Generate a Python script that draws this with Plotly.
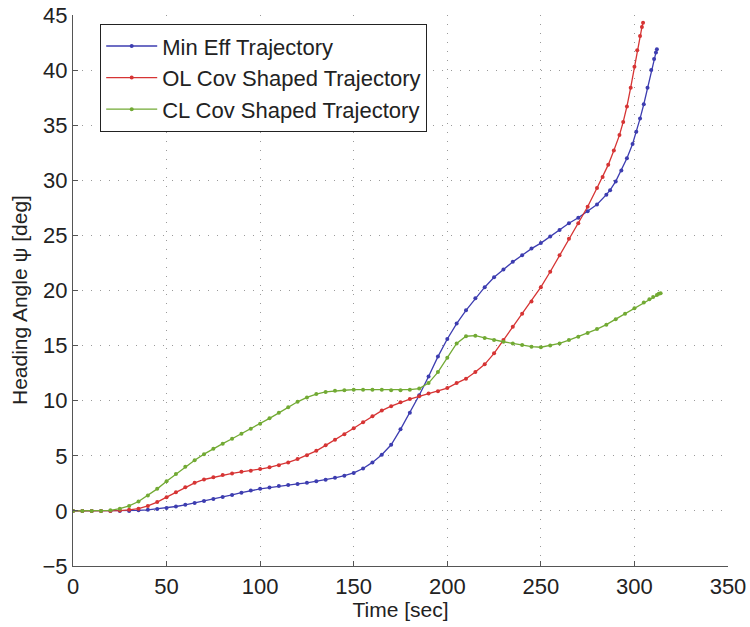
import plotly.graph_objects as go

t_min = [0, 5, 10, 15, 20, 25, 30, 35, 40, 45, 50, 55, 60, 65, 70, 75, 80, 85, 90, 95,
         100, 105, 110, 115, 120, 125, 130, 135, 140, 145, 150, 155, 160, 165, 170, 175,
         180, 185, 190, 195, 200, 205, 210, 215, 220, 225, 230, 235, 240, 245, 250, 255,
         260, 265, 270, 275, 280, 285, 287, 290, 293, 296, 299, 301, 303, 305, 307, 309,
         310.5, 311.5, 312]
v_min = [0, 0, 0, 0, 0, 0, 0, 0.05, 0.1, 0.18, 0.27, 0.4, 0.55, 0.72, 0.9, 1.08, 1.27, 1.45,
         1.65, 1.85, 2.0, 2.12, 2.25, 2.35, 2.45, 2.55, 2.68, 2.82, 3.0, 3.2, 3.45, 3.85,
         4.4, 5.1, 6.0, 7.4, 8.9, 10.5, 12.2, 14.0, 15.6, 17.0, 18.2, 19.3, 20.3, 21.2,
         21.9, 22.6, 23.2, 23.8, 24.3, 24.9, 25.5, 26.1, 26.6, 27.2, 27.8, 28.7, 29.1,
         29.9, 30.9, 32.0, 33.3, 34.4, 35.6, 36.9, 38.4, 40.0, 41.0, 41.6, 41.9]

t_ol = [0, 5, 10, 15, 20, 25, 30, 35, 40, 45, 50, 55, 60, 65, 70, 75, 80, 85, 90, 95,
        100, 105, 110, 115, 120, 125, 130, 135, 140, 145, 150, 155, 160, 165, 170, 175,
        180, 185, 190, 195, 200, 205, 210, 215, 220, 225, 230, 235, 240, 245, 250, 255,
        260, 265, 270, 275, 280, 283, 286, 289, 292, 294, 296, 298, 300, 301.5, 303, 304,
        304.6]
v_ol = [0, 0, 0, 0, 0, 0.03, 0.1, 0.2, 0.45, 0.8, 1.25, 1.7, 2.15, 2.55, 2.85, 3.05, 3.25,
        3.4, 3.55, 3.65, 3.8, 3.95, 4.15, 4.4, 4.7, 5.05, 5.45, 5.95, 6.45, 6.95, 7.5,
        8.05, 8.6, 9.1, 9.5, 9.85, 10.15, 10.4, 10.65, 10.85, 11.15, 11.6, 12.0, 12.6,
        13.3, 14.3, 15.5, 16.7, 17.9, 19.0, 20.3, 21.7, 23.2, 24.7, 26.1, 27.6, 29.3,
        30.3, 31.4, 32.7, 34.1, 35.3, 36.7, 38.4, 40.3, 41.8, 43.1, 43.9, 44.3]

t_cl = [0, 5, 10, 15, 20, 25, 30, 35, 40, 45, 50, 55, 60, 65, 70, 75, 80, 85, 90, 95,
        100, 105, 110, 115, 120, 125, 130, 135, 140, 145, 150, 155, 160, 165, 170, 175,
        180, 185, 190, 195, 200, 205, 210, 215, 220, 225, 230, 235, 240, 245, 250, 255,
        260, 265, 270, 275, 280, 285, 290, 295, 300, 305, 308, 310, 312, 313, 314]
v_cl = [0, 0, 0, 0, 0.05, 0.2, 0.45, 0.85, 1.4, 2.0, 2.7, 3.35, 4.0, 4.6, 5.15, 5.65, 6.1,
        6.55, 7.0, 7.45, 7.9, 8.4, 8.9, 9.4, 9.9, 10.3, 10.6, 10.8, 10.9, 10.95, 11.0,
        11.0, 11.0, 11.0, 10.95, 10.95, 11.0, 11.1, 11.6, 12.6, 13.9, 15.2, 15.85, 15.9,
        15.7, 15.5, 15.35, 15.2, 15.05, 14.9, 14.85, 15.0, 15.2, 15.5, 15.8, 16.15, 16.5,
        16.9, 17.4, 17.9, 18.4, 18.9, 19.2, 19.4, 19.6, 19.7, 19.75]

names = ["Min Eff Trajectory", "OL Cov Shaped Trajectory", "CL Cov Shaped Trajectory"]
colors = ["#3d3db0", "#d63434", "#72aa34"]

x_ticks = [0, 50, 100, 150, 200, 250, 300, 350]
y_ticks = [-5, 0, 5, 10, 15, 20, 25, 30, 35, 40, 45]

fig = go.Figure()
for i, (tx, vy) in enumerate([(t_min, v_min), (t_ol, v_ol), (t_cl, v_cl)]):
    fig.add_trace(go.Scatter(
        x=tx, y=vy, name=names[i], mode="lines+markers",
        line=dict(color=colors[i], width=1.3),
        marker=dict(color=colors[i], size=4),
    ))

font_family = "Liberation Sans, Arial, Helvetica, sans-serif"
axis_common = dict(
    showgrid=True, gridcolor="#9a9a9a", griddash="1px,8px", gridwidth=1,
    showline=True, linecolor="#555555", linewidth=1.2,
    ticks="inside", ticklen=5, tickcolor="#555555",
    zeroline=False, mirror=False, automargin=False,
    tickfont=dict(size=22, color="#222222", family=font_family),
)

L, R, T, B = 73, 22, 15, 61
PW, PH = 750 - L - R, 627 - T - B

fig.update_layout(
    width=750, height=627, autosize=False,
    margin=dict(l=L, r=R, t=T, b=B),
    paper_bgcolor="white", plot_bgcolor="white",
    font=dict(family=font_family, color="#222222"),
    xaxis=dict(range=[0, 350], tickvals=x_ticks,
               title=dict(text="Time [sec]", font=dict(size=21), standoff=2),
               **axis_common),
    yaxis=dict(range=[-5, 45], tickvals=y_ticks, **axis_common),
    legend=dict(
        x=(100 - L) / PW, y=(566 - 24) / PH, xanchor="left", yanchor="top",
        bordercolor="#222222", borderwidth=1.2, bgcolor="white",
        font=dict(size=22, color="#222222"),
        itemwidth=51,
    ),
    showlegend=True,
    annotations=[dict(
        text="Heading Angle ψ [deg]", textangle=-90, showarrow=False,
        xref="paper", yref="paper",
        x=(20 - L) / PW, y=(566 - 300) / PH, xanchor="center", yanchor="middle",
        font=dict(size=21, color="#222222"),
    )],
)

fig.write_html("out.html")
